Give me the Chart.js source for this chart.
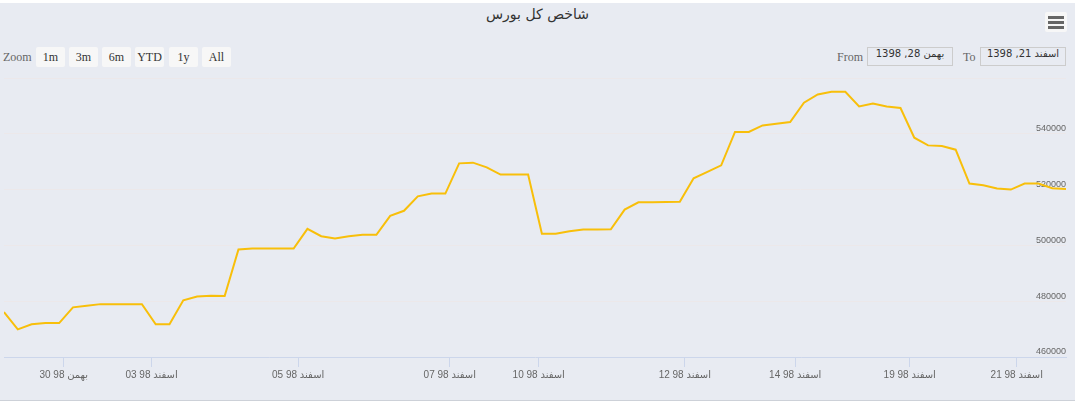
<!DOCTYPE html>
<html>
<head>
<meta charset="utf-8">
<script src="https://cdn.jsdelivr.net/npm/chart.js@4.4.1/dist/chart.umd.min.js"></script>
<style>
    body { margin: 0; width: 1075px; height: 403px; overflow: hidden; background: #fff; font-family: 'Liberation Serif', serif; }
    #panel { position: absolute; left: 0; top: 3px; width: 1075px; height: 397px; background: #e8ebf2; }
    #bottom-line { position: absolute; left: 0; top: 400px; width: 1075px; height: 1px; background: #cdd1d8; }
    #titulo { position: absolute; left: 0; top: 6px; width: 1075px; text-align: center; font: 14px 'DejaVu Sans', sans-serif; color: #333; }
    .btn { position: absolute; top: 47px; width: 29px; height: 20px; line-height: 20px; background: #f7f7f7; border-radius: 2px; text-align: center; font-size: 12px; color: #333; }
    .lbl { position: absolute; top: 47px; line-height: 20px; font-size: 12px; color: #666; }
    .campo { position: absolute; top: 47px; width: 84px; height: 17px; line-height: 17px; border: 1px solid #ccc; text-align: center; font: 10px 'DejaVu Sans', sans-serif; color: #333; }
    #menu { position: absolute; left: 1045px; top: 12px; width: 22px; height: 20px; background: #f7f7f7; border-radius: 2px; }
    #menu span { position: absolute; left: 3px; width: 16px; height: 3px; background: #666; }
    #wrap { position: absolute; left: 0; top: 70px; width: 1075px; height: 320px; }
</style>
</head>
<body>
<div id="panel"></div>
<div id="bottom-line"></div>
<div id="titulo">شاخص کل بورس</div>

<div class="lbl" style="left:3px;">Zoom</div>
<div class="btn" style="left:36px;">1m</div>
<div class="btn" style="left:69px;">3m</div>
<div class="btn" style="left:102px;">6m</div>
<div class="btn" style="left:135px;">YTD</div>
<div class="btn" style="left:169px;">1y</div>
<div class="btn" style="left:202px;">All</div>

<div class="lbl" style="left:837px;">From</div>
<div class="campo" style="left:867px;">بهمن 28, 1398</div>
<div class="lbl" style="left:963px;">To</div>
<div class="campo" style="left:980px;">اسفند 21, 1398</div>

<div id="menu"><span style="top:4px;"></span><span style="top:9px;"></span><span style="top:14px;"></span></div>

<div id="wrap"><canvas id="chartShakhes"></canvas></div>

<script>
// valores do índice (um ponto por leitura, eixo ordinal)
const indiceValores = [
    476100, 469900, 471700, 472150, 472150, 477800, 478400, 478950, 478950, 478950,
    478950, 471700, 471700, 480300, 481700, 481950, 481850, 498530, 498900, 498900,
    498900, 498900, 505940, 503300, 502470, 503300, 503800, 503800, 510600, 512400,
    517600, 518570, 518570, 529400, 529660, 527980, 525370, 525370, 525370, 504150,
    504150, 505080, 505690, 505690, 505800, 512840, 515450, 515450, 515530, 515600,
    524040, 526330, 528700, 540650, 540650, 543010, 543620, 544230, 551130, 554100,
    555070, 555070, 549810, 550880, 549810, 549240, 538610, 535850, 535640, 534310,
    522150, 521540, 520360, 520000, 522150, 522150, 520470, 520250
];

// posição dos dias no eixo (índice do ponto) e os rótulos
const diasPos = [4.33, 10.70, 21.33, 32.32, 38.77, 49.36, 57.37, 65.67, 73.43];
const diasLabels = [
    '30 98 بهمن', '03 98 اسفند', '05 98 اسفند', '07 98 اسفند', '10 98 اسفند',
    '12 98 اسفند', '14 98 اسفند', '19 98 اسفند', '21 98 اسفند'
];

const yTicks = [460000, 480000, 500000, 520000, 540000, 560000];

const fonteY = { family: "'Liberation Sans', 'DejaVu Sans', sans-serif", size: 9 };
const fonteX = { family: "'Liberation Sans', 'DejaVu Sans', sans-serif", size: 10 };

const ctx = document.getElementById('chartShakhes').getContext('2d');
const shakhesChart = new Chart(ctx, {
    type: 'line',
    data: {
        datasets: [{
            label: 'شاخص کل',
            data: indiceValores.map((v, i) => ({ x: i, y: v })),
            borderColor: '#f8bf0a',
            borderWidth: 2,
            pointRadius: 0,
            tension: 0,
            fill: false
        }]
    },
    options: {
        responsive: true,
        maintainAspectRatio: false,
        animation: false,
        layout: { padding: { left: 4, right: 9, top: 8, bottom: 7 } },
        plugins: {
            legend: { display: false },
            tooltip: { enabled: false }
        },
        scales: {
            x: {
                type: 'linear',
                min: 0,
                max: indiceValores.length - 1,
                afterBuildTicks: s => { s.ticks = diasPos.map(v => ({ value: v })); },
                grid: { drawOnChartArea: false, drawTicks: true, tickLength: 10, color: '#ccd6eb' },
                border: { color: '#ccd6eb' },
                ticks: {
                    autoSkip: false,
                    maxRotation: 0,
                    padding: 2,
                    color: '#666',
                    font: fonteX,
                    callback: v => {
                        const i = diasPos.indexOf(v);
                        return i >= 0 ? diasLabels[i] : '';
                    }
                }
            },
            y: {
                position: 'right',
                min: 460000,
                max: 560000,
                afterBuildTicks: s => { s.ticks = yTicks.map(v => ({ value: v })); },
                grid: { color: '#ece8ea', drawTicks: false },
                border: { display: false },
                ticks: {
                    mirror: true,
                    padding: 0,
                    labelOffset: -5,
                    color: '#666',
                    font: fonteY,
                    callback: v => v === 560000 ? '' : String(v)
                }
            }
        }
    }
});
</script>
</body>
</html>
